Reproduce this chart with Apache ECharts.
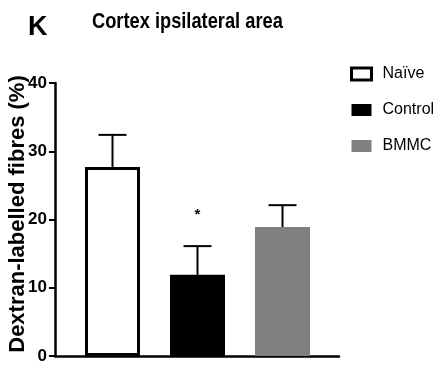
<!DOCTYPE html>
<html><head><meta charset="utf-8">
<script src="https://cdn.jsdelivr.net/npm/echarts@6/dist/echarts.min.js"></script>
<style>html,body{margin:0;padding:0;background:#fff}#c{width:436px;height:366px}</style>
</head><body><div id="c"></div>
<script>
const categories = ['Naïve', 'Control', 'BMMC'];
const means = [27.7, 11.9, 18.9];
const errors = [4.7, 4.2, 3.2];
const marks = ['', '*', ''];
const colors = ['#ffffff', '#000000', '#808080'];
const yTicks = [0, 10, 20, 30, 40];

const FONT = "'Liberation Sans', Arial, sans-serif";
const chart = echarts.init(document.getElementById('c'), null, {renderer: 'canvas'});

const barSeries = categories.map((name, i) => ({
  name: name,
  type: 'bar',
  xAxisIndex: 1, yAxisIndex: 1,
  barWidth: 55,
  barGap: '-100%',
  data: categories.map((c, j) => j === i ? means[i] : '-'),
  itemStyle: i === 0
    ? {color: colors[i], borderColor: '#000', borderWidth: 3}
    : {color: colors[i]},
  z: 2
}));

const errSeries = {
  type: 'custom',
  xAxisIndex: 1, yAxisIndex: 1,
  data: categories.map((c, i) => [i, means[i], means[i] + errors[i]]),
  renderItem: function (params, api) {
    const x = api.value(0);
    const base = api.coord([x, api.value(1)]);
    const top = api.coord([x, api.value(2)]);
    const half = 14;
    const st = {stroke: '#000', lineWidth: 2};
    const children = [
      {type: 'line', shape: {x1: base[0], y1: base[1], x2: top[0], y2: top[1]}, style: st},
      {type: 'line', shape: {x1: top[0] - half, y1: top[1], x2: top[0] + half, y2: top[1]}, style: st}
    ];
    const m = marks[params.dataIndex];
    if (m) {
      children.push({type: 'text', style: {text: m, x: top[0], y: top[1] - 31, align: 'center', verticalAlign: 'middle', font: 'bold 15px ' + FONT, fill: '#000'}});
    }
    return {type: 'group', children: children};
  },
  z: 1
};

chart.setOption({
  animation: false,
  title: [
    {text: 'K', left: 28, top: 14, padding: 0, textStyle: {fontFamily: FONT, fontWeight: 'bold', fontSize: 27, color: '#000'}}
  ],
  graphic: [
    {type: 'text', left: 92, top: 11, scaleX: 0.83, originX: 0,
      style: {text: 'Cortex ipsilateral area', font: 'bold 22px ' + FONT, fill: '#000'}}
  ],
  legend: {
    orient: 'vertical', left: 350, top: 66, padding: 0,
    itemWidth: 20, itemHeight: 12, itemGap: 20,
    icon: 'rect',
    data: [
      {name: categories[0], itemStyle: {borderWidth: 3, borderColor: '#000', color: '#fff'}},
      {name: categories[1]},
      {name: categories[2]}
    ],
    textStyle: {fontFamily: FONT, fontSize: 16, color: '#000', padding: [0, 0, 0, 6]}
  },
  grid: [
    {left: 55, top: 83, width: 284, height: 273, containLabel: false, outerBoundsMode: 'none'},
    {left: 70, top: 83, width: 255, height: 273, containLabel: false, outerBoundsMode: 'none'}
  ],
  xAxis: [
    {gridIndex: 0, type: 'value', min: 0, max: 1, axisLine: {show: true, onZero: false, lineStyle: {color: '#000', width: 2.5}}, axisTick: {show: false}, axisLabel: {show: false}, splitLine: {show: false}},
    {gridIndex: 1, type: 'category', data: categories, show: false}
  ],
  yAxis: [
    {gridIndex: 0, type: 'value', min: yTicks[0], max: yTicks[yTicks.length - 1], interval: 10,
      name: 'Dextran-labelled fibres (%)', nameLocation: 'middle', nameGap: 26, nameRotate: 90, nameMoveOverlap: false,
      nameTextStyle: {fontFamily: FONT, fontWeight: 'bold', fontSize: 22, color: '#000', padding: [0, 0, 0, 11]},
      axisLine: {show: true, lineStyle: {color: '#000', width: 2.5}},
      axisTick: {show: true, length: 6, lineStyle: {color: '#000', width: 2}},
      axisLabel: {fontFamily: FONT, fontWeight: 'bold', fontSize: 17, color: '#000', margin: 8},
      splitLine: {show: false}},
    {gridIndex: 1, type: 'value', min: 0, max: 40, show: false, splitLine: {show: false}}
  ],
  series: barSeries.concat([errSeries])
});
</script></body></html>
